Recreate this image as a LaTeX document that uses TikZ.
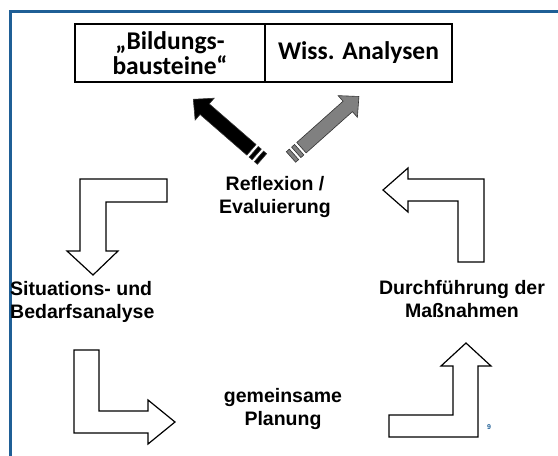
\documentclass[tikz,border=0pt]{standalone}
\usepackage{fontspec}
\setmainfont{Liberation Sans}
\newfontfamily\boxfont{Carlito}
\usepackage{xcolor}
\usetikzlibrary{positioning}
\definecolor{frameblue}{HTML}{1F5F96}
\definecolor{arrowgray}{HTML}{808080}

\begin{document}
\begin{tikzpicture}[x=1pt,y=-1pt,
            steplabel/.style = {font=\bfseries\fontsize{19.5}{23}\selectfont, align=center, inner sep=0pt},
            cell/.style = {draw, line width=1.2pt, outer sep=0pt, inner sep=0pt, minimum height=58pt,
                font=\boxfont\bfseries\fontsize{25.5}{25}\selectfont, align=center},
            hollow/.style = {draw, line width=1.2pt, fill=white, line join=miter}]
            \useasboundingbox (0,0) rectangle (558,456);
            \draw[frameblue, line width=3pt] (10.5,456) -- (10.5,11.5) -- (558,11.5);
            % top boxes
            \node[cell, minimum width=190pt] (bild) at (170,53) {„Bildungs-\\bausteine“};
            \node[cell, minimum width=187pt, right=0pt of bild] (wiss) {Wiss. Analysen};
            % steps of the cycle
            \node[steplabel] (refl) at (275,197) {Reflexion /\\Evaluierung};
            \node[steplabel, align=left, anchor=west] (sit) at (10,302) {Situations- und\\Bedarfsanalyse};
            \node[steplabel] (plan) at (283,409) {gemeinsame\\Planung};
            \node[steplabel] (durch) at (462,299) {Durchführung der\\Maßnahmen};
            \node[font=\bfseries\fontsize{7}{8}\selectfont, text=frameblue, inner sep=0pt] (page) at (489,427) {9};
            % striped arrows to the boxes
            \foreach \ang/\tx/\ty/\col in {139/262/159/black, 41.7/291/157/arrowgray} {
                \begin{scope}[shift={(\tx,\ty)}, rotate=\ang, fill=\col, draw=black!80, line width=0.6pt]
                    \filldraw (14,-7) -- (76,-7) -- (76,-14.5) -- (91,0) -- (76,14.5) -- (76,7) -- (14,7) -- cycle;
                    \filldraw (7,-7) rectangle (11,7);
                    \filldraw (0,-7) rectangle (4,7);
                \end{scope}
            }
            % hollow bent arrows
            \draw[hollow] (80,179) -- (167,179) -- (167,202) -- (106,202) -- (106,251) -- (118,251)
                -- (93,275) -- (67,251) -- (80,251) -- cycle;
            \draw[hollow] (74,350) -- (99,350) -- (99,411) -- (148,411) -- (148,400) -- (175,422)
                -- (148,444) -- (148,433) -- (74,433) -- cycle;
            \draw[hollow] (389,437) -- (389,415) -- (453,415) -- (453,366) -- (441,366) -- (466,343)
                -- (491,366) -- (478,366) -- (478,437) -- cycle;
            \draw[hollow] (484,262) -- (484,179) -- (408,179) -- (408,168) -- (383,190) -- (408,212)
                -- (408,201) -- (458,201) -- (458,262) -- cycle;
        \end{tikzpicture}
\end{document}
